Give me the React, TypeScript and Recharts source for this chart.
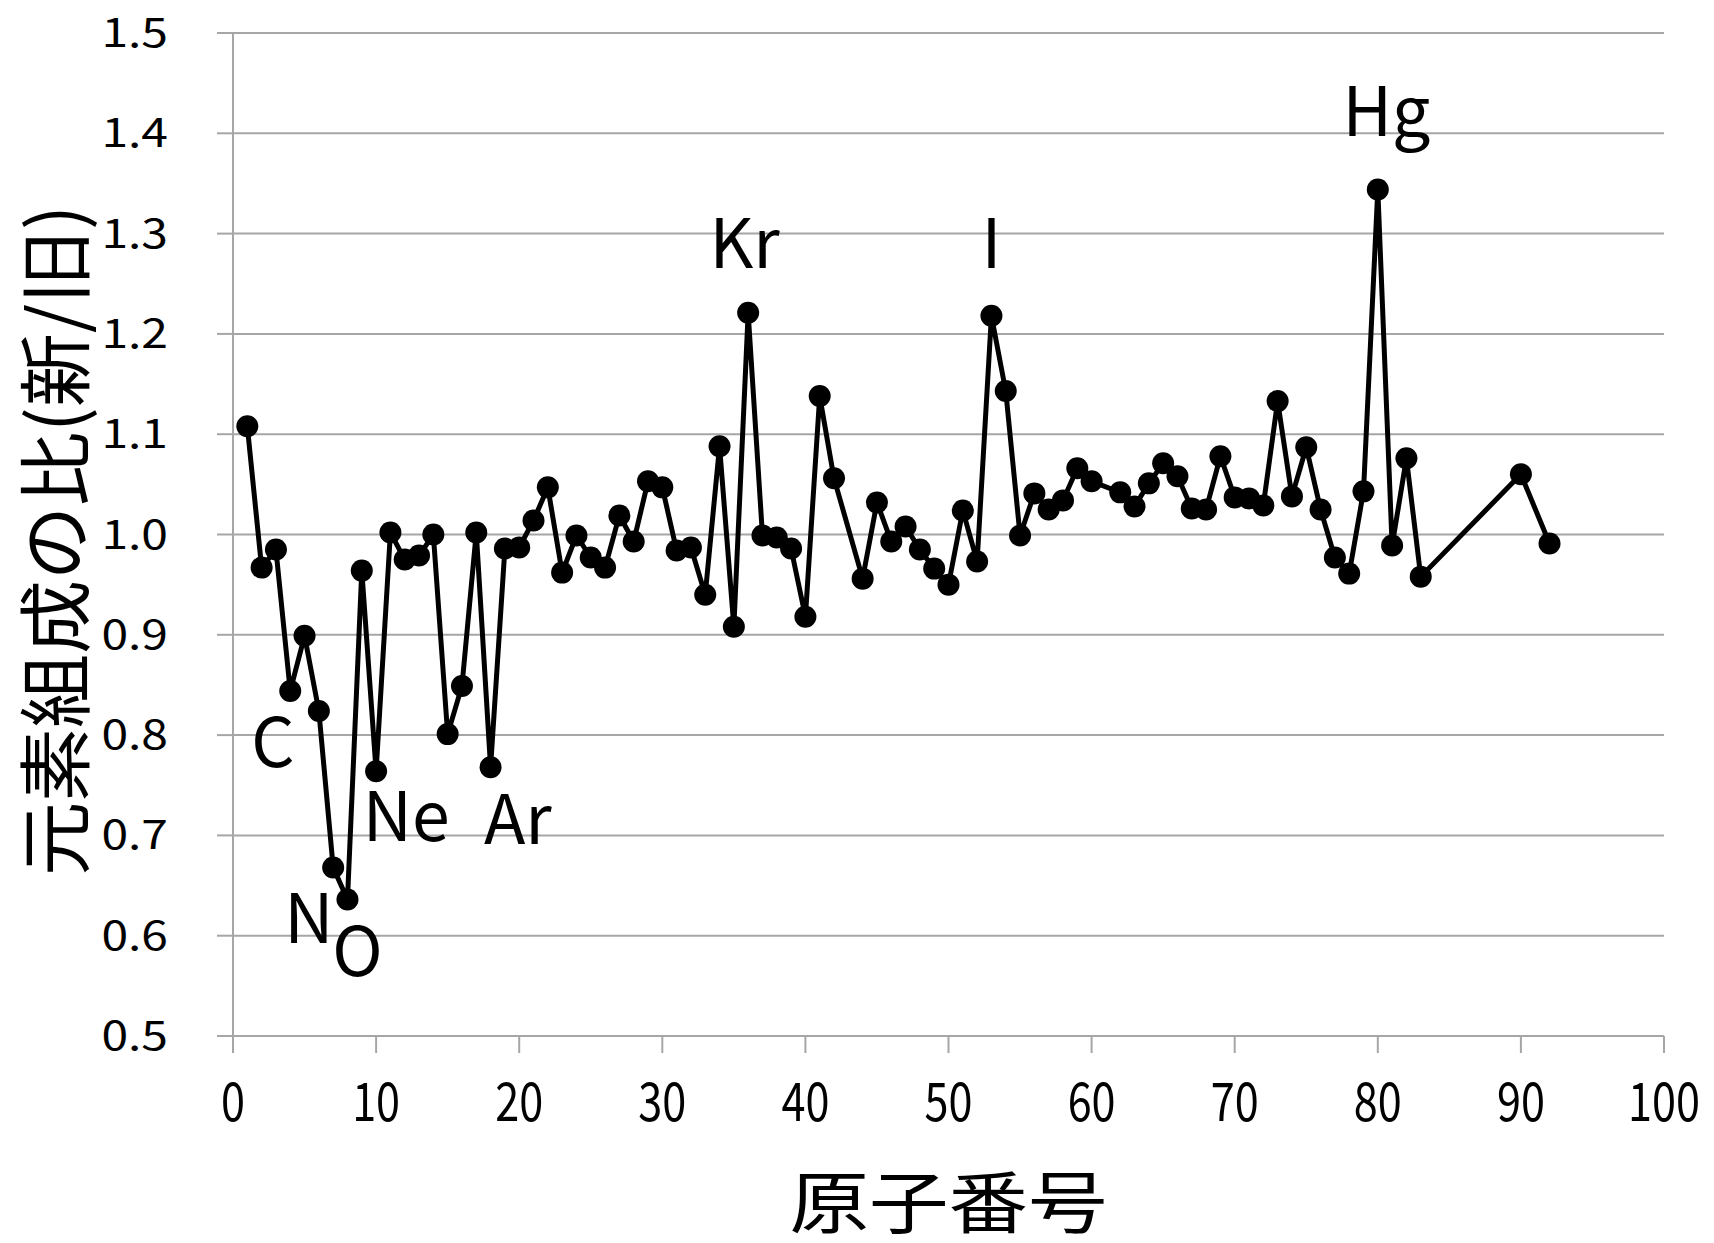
import React from "react";
import {
  LineChart,
  Line,
  XAxis,
  YAxis,
  CartesianGrid,
  ReferenceDot,
  Label,
} from "recharts";

// atomic number vs. ratio of element composition (new / old)
const atomicNumbers = [
  1, 2, 3, 4, 5, 6, 7, 8, 9, 10, 11, 12, 13, 14, 15, 16, 17, 18, 19, 20, 21,
  22, 23, 24, 25, 26, 27, 28, 29, 30, 31, 32, 33, 34, 35, 36, 37, 38, 39, 40,
  41, 42, 44, 45, 46, 47, 48, 49, 50, 51, 52, 53, 54, 55, 56, 57, 58, 59, 60,
  62, 63, 64, 65, 66, 67, 68, 69, 70, 71, 72, 73, 74, 75, 76, 77, 78, 79, 80,
  81, 82, 83, 90, 92,
];
const ratios = [
  1.108, 0.967, 0.985, 0.844, 0.899, 0.824, 0.668, 0.636, 0.964, 0.764, 1.002,
  0.975, 0.979, 1.0, 0.801, 0.849, 1.002, 0.768, 0.986, 0.987, 1.014, 1.047,
  0.962, 0.999, 0.977, 0.967, 1.019, 0.993, 1.053, 1.047, 0.984, 0.987, 0.94,
  1.088, 0.908, 1.221, 0.999, 0.997, 0.986, 0.918, 1.138, 1.056, 0.956, 1.032,
  0.993, 1.008, 0.985, 0.966, 0.95, 1.024, 0.973, 1.218, 1.143, 0.999, 1.041,
  1.025, 1.034, 1.066, 1.053, 1.042, 1.028, 1.051, 1.071, 1.058, 1.026, 1.025,
  1.078, 1.037, 1.036, 1.029, 1.133, 1.038, 1.087, 1.025, 0.977, 0.961, 1.043,
  1.344, 0.989, 1.076, 0.958, 1.06, 0.991,
];

const xTicks = [0, 10, 20, 30, 40, 50, 60, 70, 80, 90, 100];
const yTicks = [0.5, 0.6, 0.7, 0.8, 0.9, 1.0, 1.1, 1.2, 1.3, 1.4, 1.5];

// element labels placed in data units
const labelNames = ["C", "N", "O", "Ne", "Ar", "Kr", "I", "Hg"];
const labelX = [2.8, 5.3, 8.7, 12.1, 19.9, 35.75, 53.0, 80.6];
const labelY = [0.798, 0.622, 0.589, 0.724, 0.721, 1.295, 1.295, 1.427];

const data = atomicNumbers.map((z, i) => ({ z, ratio: ratios[i] }));

const FONT = "'Noto Sans CJK JP', 'Noto Sans', sans-serif";
const GRID = "#a6a6a6";

function XTick({ x, y, payload }: any) {
  return (
    <g transform={`translate(${x},${y + 66})`}>
      <text transform="scale(0.8,1)" textAnchor="middle" fontSize={54} fontFamily={FONT} fill="#000">
        {payload.value}
      </text>
    </g>
  );
}

function YTick({ x, y, payload }: any) {
  return (
    <g transform={`translate(${x - 47},${y + 14})`}>
      <text transform="scale(1.2,1)" textAnchor="end" fontSize={40} fontFamily={FONT} fill="#000">
        {Number(payload.value).toFixed(1)}
      </text>
    </g>
  );
}

function YTitle({ viewBox }: any) {
  const cx = viewBox.x + 50;
  const cy = viewBox.y + viewBox.height / 2 + 6;
  return (
    <text
      transform={`translate(${cx},${cy}) rotate(-90)`}
      textAnchor="middle"
      dominantBaseline="central"
      fontSize={74}
      fontFamily={FONT}
      fill="#000"
    >
      元素組成の比(新/旧)
    </text>
  );
}

function XTitle({ viewBox }: any) {
  const cx = viewBox.x + viewBox.width / 2;
  const cy = viewBox.y + 162;
  return (
    <g transform={`translate(${cx},${cy})`}>
      <text transform="scale(1.17,1)" textAnchor="middle" dominantBaseline="central" fontSize={68} fontFamily={FONT} fill="#000">
        原子番号
      </text>
    </g>
  );
}

export default function App() {
  return (
    <div style={{ position: "absolute", left: 0, top: 0, background: "#fff" }}>
      <LineChart
        width={1714}
        height={1243}
        data={data}
        margin={{ top: 33, right: 50, left: 0, bottom: 0 }}
      >
        <CartesianGrid vertical={false} stroke={GRID} strokeWidth={2} />
        <XAxis
          type="number"
          dataKey="z"
          domain={[0, 100]}
          ticks={xTicks}
          height={207}
          stroke={GRID}
          strokeWidth={2}
          tickSize={17}
          tick={<XTick />}
          interval={0}
        >
          <Label content={<XTitle />} />
        </XAxis>
        <YAxis
          type="number"
          domain={[0.5, 1.5]}
          ticks={yTicks}
          width={233}
          stroke={GRID}
          strokeWidth={2}
          tickSize={16}
          tick={<YTick />}
          interval={0}
          allowDataOverflow
        >
          <Label content={<YTitle />} />
        </YAxis>
        <Line
          type="linear"
          dataKey="ratio"
          stroke="#000"
          strokeWidth={5}
          dot={{ r: 11, fill: "#000", stroke: "none" }}
          activeDot={false}
          isAnimationActive={false}
        />
        {labelNames.map((name, i) => (
          <ReferenceDot
            key={name}
            x={labelX[i]}
            y={labelY[i]}
            r={0}
            shape={(p: any) => (
              <text
                x={p.cx}
                y={p.cy}
                textAnchor="middle"
                dominantBaseline="central"
                fontSize={68}
                fontFamily={FONT}
                fill="#000"
              >
                {name}
              </text>
            )}
          />
        ))}
      </LineChart>
    </div>
  );
}
